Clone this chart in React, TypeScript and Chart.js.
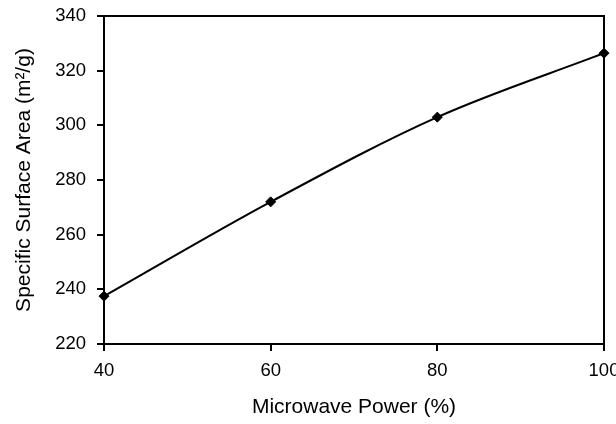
import React, { useEffect, useRef } from "react";
import { Chart, registerables } from "chart.js";

Chart.register(...registerables);

const powers = [40, 60, 80, 100];
const surfaceArea = [237.5, 272, 303, 326.4];
const xTicks = [40, 60, 80, 100];
const yTicks = [220, 240, 260, 280, 300, 320, 340];
const xTitle = "Microwave Power (%)";
const yTitle = "Specific Surface Area (m²/g)";

const FONT = "'Liberation Sans', Arial, sans-serif";

const framePlugin = {
  id: "frame",
  beforeDatasetsDraw(chart: any) {
    const { ctx, chartArea: a } = chart;
    ctx.save();
    ctx.strokeStyle = "#000";
    ctx.lineWidth = 2;
    ctx.strokeRect(a.left, a.top, a.right - a.left, a.bottom - a.top);
    ctx.restore();
  },
};

export default function App() {
  const ref = useRef<HTMLCanvasElement | null>(null);
  useEffect(() => {
    if (!ref.current) return;
    const chart = new Chart(ref.current, {
      type: "line",
      data: {
        datasets: [
          {
            data: powers.map((p, i) => ({ x: p, y: surfaceArea[i] })),
            borderColor: "#000",
            backgroundColor: "#000",
            borderWidth: 2,
            pointStyle: "rectRot",
            pointRadius: 5,
            pointBorderWidth: 1,
            pointBackgroundColor: "#000",
            pointBorderColor: "#000",
            cubicInterpolationMode: "monotone",
            clip: false,
          } as any,
        ],
      },
      options: {
        animation: false,
        responsive: false,
        maintainAspectRatio: false,
        layout: { padding: { top: 16, right: 12, left: 0, bottom: 0 } },
        plugins: { legend: { display: false }, tooltip: { enabled: false } },
        scales: {
          x: {
            type: "linear",
            min: 40,
            max: 100,
            afterBuildTicks: (s: any) => {
              s.ticks = xTicks.map((v) => ({ value: v }));
            },
            afterFit: (s: any) => {
              s.height = 80;
              s.paddingLeft = 0;
              s.paddingRight = 0;
            },
            grid: {
              drawOnChartArea: false,
              drawTicks: true,
              tickLength: 7,
              tickColor: "#000",
              lineWidth: 2,
              color: "#000",
            },
            border: { display: true, color: "#000", width: 2 },
            ticks: {
              color: "#000",
              font: { family: FONT, size: 18.5 },
              padding: 9,
              maxRotation: 0,
            },
            title: {
              display: true,
              text: xTitle,
              color: "#000",
              font: { family: FONT, size: 21 },
              padding: { top: 0, bottom: 4 },
            },
          },
          y: {
            type: "linear",
            min: 220,
            max: 340,
            afterBuildTicks: (s: any) => {
              s.ticks = yTicks.map((v) => ({ value: v }));
            },
            afterFit: (s: any) => {
              s.width = 104;
              s.paddingTop = 0;
              s.paddingBottom = 0;
            },
            grid: {
              drawOnChartArea: false,
              drawTicks: true,
              tickLength: 7,
              tickColor: "#000",
              lineWidth: 2,
              color: "#000",
            },
            border: { display: true, color: "#000", width: 2 },
            ticks: {
              color: "#000",
              font: { family: FONT, size: 18.5 },
              padding: 11,
            },
            title: {
              display: true,
              text: yTitle,
              color: "#000",
              font: { family: FONT, size: 21 },
              padding: { top: 12, bottom: 0 },
            },
          },
        },
      },
      plugins: [framePlugin],
    });
    return () => chart.destroy();
  }, []);
  return (
    <div style={{ position: "fixed", left: 0, top: 0, width: 616, height: 424, background: "#fff" }}>
      <canvas ref={ref} width={616} height={424} style={{ width: 616, height: 424 }} />
    </div>
  );
}
